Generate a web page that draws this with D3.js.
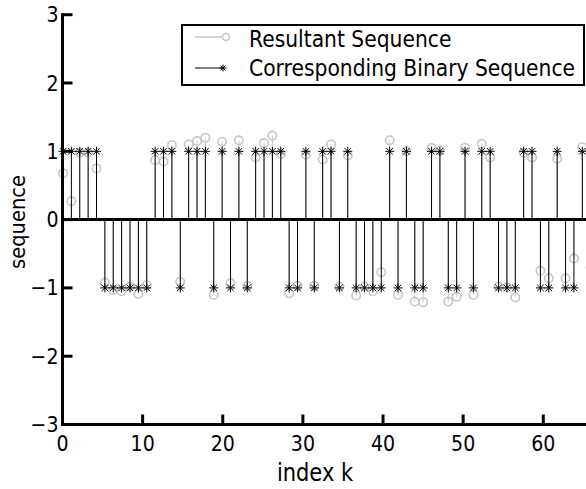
<!DOCTYPE html>
<html>
<head>
<meta charset="utf-8">
<script src="https://cdn.jsdelivr.net/npm/d3@7"></script>
<style>
  body { margin: 0; background: #fff; }
  svg { display: block; font-family: "DejaVu Sans", sans-serif; }
</style>
</head>
<body>
<div id="chartdiv"></div>
<script>
//stem plot of a binary sequence and the resultant sequence
(function(){

  //binary sequence, one value per index k = 0..62
  var binarySeq = [1,1,1,1,1,-1,-1,-1,-1,-1,-1,1,1,1,-1,1,1,1,-1,1,-1,1,-1,1,1,1,1,
                   -1,-1,1,-1,1,1,-1,1,-1,-1,-1,-1,1,-1,1,-1,-1,1,1,-1,-1,1,-1,1,1,
                   -1,-1,-1,1,1,-1,-1,1,-1,-1,1];

  //resultant sequence, index k = 0..63
  var resultSeq = [0.68,0.27,0.98,0.98,0.75,-0.92,-1.03,-1.05,-0.98,-1.09,-0.96,0.87,0.85,1.09,
                   -0.91,1.10,1.15,1.20,-1.10,1.14,-0.93,1.16,-0.97,0.91,1.12,1.23,0.96,-1.08,
                   -0.97,0.95,-0.97,0.88,1.10,-0.98,0.94,-1.11,-0.98,-1.05,-0.77,1.16,-1.10,1.00,
                   -1.20,-1.21,1.05,1.01,-1.20,-1.13,1.05,-1.10,1.11,0.91,-0.98,-0.99,-1.14,0.98,
                   0.91,-0.75,-0.86,0.89,-0.86,-0.57,1.06,-0.70];

  var xTicks = [0, 10, 20, 30, 40, 50, 60];
  var yTicks = [-3, -2, -1, 0, 1, 2, 3];
  var legendLabels = ["Resultant Sequence", "Corresponding Binary Sequence"];

  var width = 586, height = 489;
  var grayCol = "#c6c6c6";

  var svg = d3.select("#chartdiv")
      .append("svg")
      .attr("width", width)
      .attr("height", height);

  //axis scale (tick labels) and sample scale (where the stems land)
  var xAxis = d3.scaleLinear().domain([0, 60]).range([62.5, 543.3]);
  var xIdx = d3.scaleLinear().domain([0, 62]).range([63, 582.3]);
  var y = d3.scaleLinear().domain([-3, 3]).range([424.5, 14.7]);

  //text with a slight vertical stretch like the original
  function addText(x, yy, str, size, anchor, sy, rot){
    var t = svg.append("text")
        .attr("transform", "translate(" + x + "," + yy + ")" + (rot ? " rotate(" + rot + ")" : "") + " scale(1," + sy + ")")
        .attr("text-anchor", anchor)
        .style("font-size", size + "px")
        .attr("fill", "#000")
        .text(str);
    return t;
  };

  //asterisk marker path
  function starPath(cx, cy, r){
    var d = "", a = r * 0.72;
    d += "M" + (cx - r) + "," + cy + "L" + (cx + r) + "," + cy;
    d += "M" + cx + "," + (cy - r) + "L" + cx + "," + (cy + r);
    d += "M" + (cx - a) + "," + (cy - a) + "L" + (cx + a) + "," + (cy + a);
    d += "M" + (cx - a) + "," + (cy + a) + "L" + (cx + a) + "," + (cy - a);
    return d;
  };

  //resultant stems (drawn first, gray)
  svg.selectAll(".rStem")
      .data(resultSeq)
      .enter()
      .append("line")
      .attr("class", "rStem")
      .attr("x1", function(d, i){ return xIdx(i); })
      .attr("x2", function(d, i){ return xIdx(i); })
      .attr("y1", y(0))
      .attr("y2", function(d){ return y(d); })
      .attr("stroke", grayCol)
      .attr("stroke-width", 1);

  svg.selectAll(".rMark")
      .data(resultSeq)
      .enter()
      .append("circle")
      .attr("class", "rMark")
      .attr("cx", function(d, i){ return xIdx(i); })
      .attr("cy", function(d){ return y(d); })
      .attr("r", 4.2)
      .attr("fill", "none")
      .attr("stroke", grayCol)
      .attr("stroke-width", 1.6);

  //binary stems (black, on top)
  svg.selectAll(".bStem")
      .data(binarySeq)
      .enter()
      .append("line")
      .attr("class", "bStem")
      .attr("x1", function(d, i){ return xIdx(i); })
      .attr("x2", function(d, i){ return xIdx(i); })
      .attr("y1", y(0))
      .attr("y2", function(d){ return y(d); })
      .attr("stroke", "#000")
      .attr("stroke-width", 1);

  svg.selectAll(".bMark")
      .data(binarySeq)
      .enter()
      .append("path")
      .attr("class", "bMark")
      .attr("d", function(d, i){ return starPath(xIdx(i), y(d), 4.5); })
      .attr("stroke", "#000")
      .attr("stroke-width", 1);

  //zero baseline
  svg.append("line")
      .attr("x1", xAxis(0)).attr("x2", width)
      .attr("y1", y(0)).attr("y2", y(0))
      .attr("stroke", "#000")
      .attr("stroke-width", 3);

  //axes: left and bottom with inward ticks
  svg.append("line")
      .attr("x1", xAxis(0)).attr("x2", xAxis(0))
      .attr("y1", y(3) - 1.5).attr("y2", y(-3) + 1.5)
      .attr("stroke", "#000").attr("stroke-width", 3);
  svg.append("line")
      .attr("x1", xAxis(0) - 1.5).attr("x2", width)
      .attr("y1", y(-3)).attr("y2", y(-3))
      .attr("stroke", "#000").attr("stroke-width", 3);

  yTicks.forEach(function(v){
    svg.append("line")
        .attr("x1", xAxis(0)).attr("x2", xAxis(0) + 10)
        .attr("y1", y(v)).attr("y2", y(v))
        .attr("stroke", "#000").attr("stroke-width", 3);
    addText(xAxis(0) - 4, y(v) + 7.5, v < 0 ? "\u2212" + Math.abs(v) : String(v), 19, "end", 1.1);
  });

  xTicks.forEach(function(v){
    svg.append("line")
        .attr("x1", xAxis(v)).attr("x2", xAxis(v))
        .attr("y1", y(-3)).attr("y2", y(-3) - 10)
        .attr("stroke", "#000").attr("stroke-width", 3);
    addText(xAxis(v), 451, String(v), 19, "middle", 1.1);
  });

  //axis titles
  addText(315, 481, "index k", 21, "middle", 1.15);
  addText(25, 222, "sequence", 19.5, "middle", 1.05, -90);

  //legend box
  svg.append("rect")
      .attr("x", 182).attr("y", 25)
      .attr("width", 402).attr("height", 60)
      .attr("fill", "#fff")
      .attr("stroke", "#000")
      .attr("stroke-width", 2);

  svg.append("line")
      .attr("x1", 195).attr("x2", 223).attr("y1", 37).attr("y2", 37)
      .attr("stroke", grayCol).attr("stroke-width", 1.5);
  svg.append("circle")
      .attr("cx", 226).attr("cy", 37).attr("r", 3.5)
      .attr("fill", "none").attr("stroke", grayCol).attr("stroke-width", 1.5);
  svg.append("line")
      .attr("x1", 195).attr("x2", 222).attr("y1", 68).attr("y2", 68)
      .attr("stroke", "#000").attr("stroke-width", 1);
  svg.append("path")
      .attr("d", starPath(223, 68, 3.5))
      .attr("stroke", "#000").attr("stroke-width", 1);

  addText(249, 47, legendLabels[0], 20.3, "start", 1.15);
  addText(249, 76, legendLabels[1], 20.3, "start", 1.15);

})();
</script>
</body>
</html>
